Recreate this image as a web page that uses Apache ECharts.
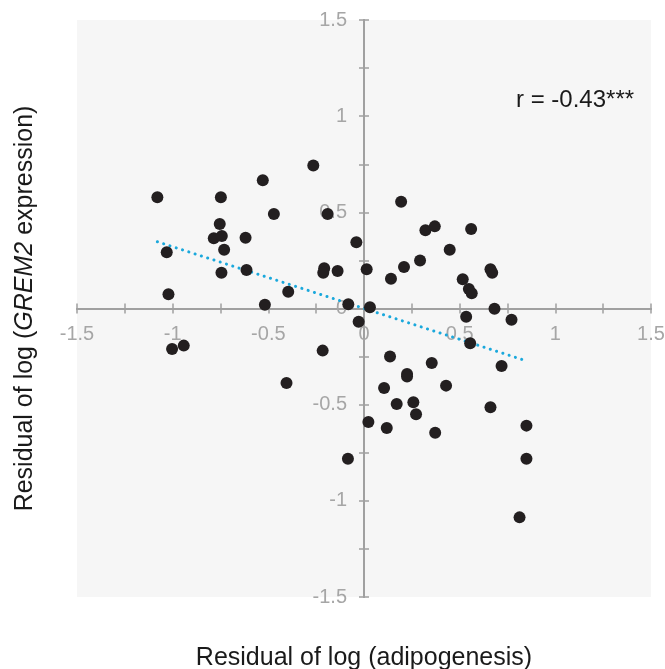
<!DOCTYPE html>
<html>
<head>
<meta charset="utf-8">
<script src="https://cdn.jsdelivr.net/npm/echarts@6/dist/echarts.min.js"></script>
<style>
html,body{margin:0;padding:0;background:#fff;}
#chart{width:665px;height:669px;}
</style>
</head>
<body>
<div id="chart"></div>
<script>
var xValues = [-1.080,-1.031,-1.022,-0.748,-0.754,-0.785,-0.743,-0.731,-0.745,-0.619,-0.614,-0.529,-0.471,-0.518,-0.396,-0.265,-0.190,-0.208,-0.213,-0.138,-0.040,0.014,-0.082,0.031,-0.028,
  0.194,0.321,0.370,0.560,0.448,0.293,0.209,0.141,0.516,0.661,0.670,0.548,0.563,0.682,0.534,0.771,0.555,
  -1.003,-0.942,-0.216,-0.405,0.023,-0.084,
  0.136,0.354,0.225,0.225,0.105,0.429,0.719,0.171,0.258,0.272,0.661,0.119,0.372,0.849,0.849,
  0.813];
var yValues = [0.578,0.292,0.074,0.578,0.439,0.365,0.377,0.306,0.186,0.368,0.200,0.667,0.491,0.020,0.087,0.743,0.491,0.209,0.186,0.195,0.344,0.204,0.022,0.006,-0.069,
  0.555,0.407,0.427,0.413,0.306,0.250,0.216,0.155,0.152,0.204,0.186,0.101,0.079,-0.001,-0.043,-0.058,-0.181,
  -0.211,-0.193,-0.219,-0.387,-0.590,-0.781,
  -0.250,-0.283,-0.341,-0.354,-0.413,-0.401,-0.299,-0.497,-0.488,-0.550,-0.514,-0.621,-0.646,-0.609,-0.781,
  -1.086];
var trendX = [-1.08, 0.851];
var trendY = [0.347, -0.273];
var axisMin = -1.5, axisMax = 1.5, tickStep = 0.25;
var xTitle = 'Residual of log (adipogenesis)';
var yTitleParts = ['Residual of log (', 'GREM2', ' expression)'];
var corrText = 'r = -0.43***';

var points = xValues.map(function(x, i){ return [x, yValues[i]]; });
var trend = trendX.map(function(x, i){ return [x, trendY[i]]; });

var W = 665, H = 669;
var G = {left:77, right:14, top:20, bottom:72};
var gridW = W - G.left - G.right, gridH = H - G.top - G.bottom;

var FONT = "'Liberation Sans', Arial, sans-serif";
var AX = '#a0a0a0';
var LBL = '#a6a6a6';
function fmt(v){
  return Math.abs(v*2 - Math.round(v*2)) < 1e-6 ? String(Math.round(v*10)/10) : '';
}
function base(pos){
  return {type:'value', position:pos, min:axisMin, max:axisMax, interval:tickStep, splitLine:{show:false}};
}
function lineAxis(pos){
  var a = base(pos);
  a.axisLine = {show:true, onZero:true, onZeroAxisIndex:0, lineStyle:{color:AX, width:2}};
  a.axisTick = {show:true, inside:false, length:5, lineStyle:{color:AX, width:1.5}};
  a.axisLabel = {show:false};
  return a;
}
function labelAxis(pos, offset, margin){
  var a = base(pos);
  a.offset = offset;
  a.axisLine = {show:false, onZero:false};
  a.axisTick = {show:false};
  a.axisLabel = {show:true, formatter:fmt, color:LBL, fontSize:20, fontFamily:FONT, margin:margin, showMinLabel:true, showMaxLabel:true};
  return a;
}
function nameAxis(pos, name, gap, rich){
  var a = base(pos);
  a.axisLine = {show:false, onZero:false}; a.axisTick = {show:false}; a.axisLabel = {show:false};
  a.name = name; a.nameLocation = 'middle'; a.nameGap = gap;
  a.nameTextStyle = {color:'#1a1a1a', fontSize:25, fontFamily:FONT, rich:rich};
  return a;
}
var chart = echarts.init(document.getElementById('chart'), null, {renderer:'canvas'});
chart.setOption({
  animation:false,
  grid:{left:G.left, right:G.right, top:G.top, bottom:G.bottom, outerBoundsMode:'none', containLabel:false,
    show:true, backgroundColor:'#f6f6f6', borderWidth:0},
  xAxis:[lineAxis('bottom'), lineAxis('top'), labelAxis('bottom', -gridH/2, 16), nameAxis('bottom', xTitle, 49)],
  yAxis:[lineAxis('left'), lineAxis('right'), labelAxis('left', -gridW/2, 17),
    nameAxis('left', yTitleParts[0] + '{i|' + yTitleParts[1] + '}' + yTitleParts[2], 39,
      {i:{fontStyle:'italic', fontSize:25, fontFamily:FONT, color:'#1a1a1a'}})],
  graphic:[{type:'text', left:516, top:88, style:{text:corrText, fill:'#1a1a1a', font:'24px ' + FONT}}],
  series:[
    {type:'line', data:trend, showSymbol:false, symbol:'none', z:3,
      lineStyle:{color:'#1aa8dc', width:3, type:[0.1,6.5], cap:'round'}},
    {type:'scatter', data:points, symbol:'circle', symbolSize:12, z:4,
      itemStyle:{color:'#231f20', opacity:1}}
  ]
});
</script>
</body>
</html>
